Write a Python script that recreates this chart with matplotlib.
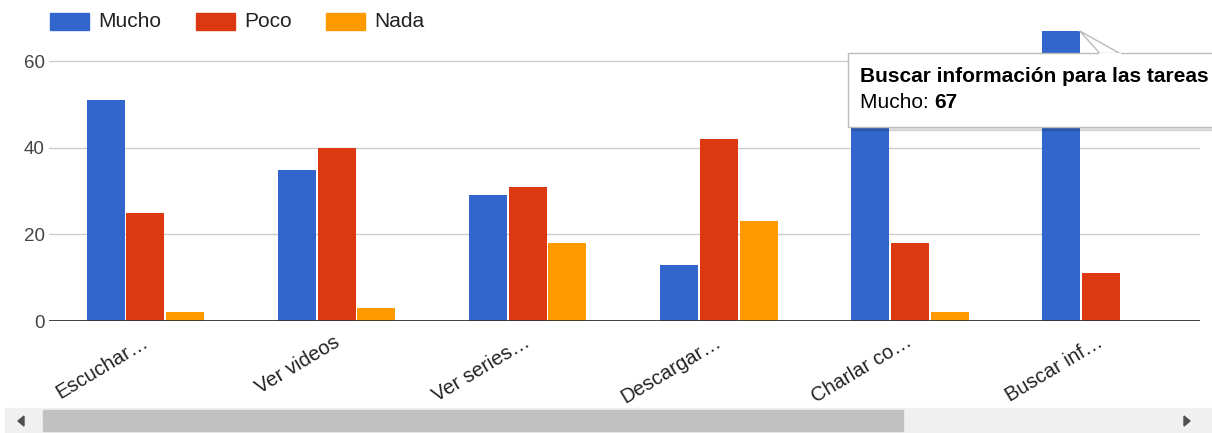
import matplotlib
matplotlib.use("Agg")
import matplotlib.pyplot as plt
import numpy as np
from matplotlib.patches import Rectangle, Polygon

plt.rcParams["font.family"] = ["Liberation Sans", "DejaVu Sans"]

# ---------- data ----------
categories = ["Escuchar…", "Ver videos", "Ver series…", "Descargar…",
              "Charlar co…", "Buscar inf…", "Tareas…"]
series = ["Mucho", "Poco", "Nada"]
mucho = [51, 35, 29, 13, 52, 67, 0]
poco = [25, 40, 31, 42, 18, 11, 0]
nada = [2, 3, 18, 23, 2, 0, 0]
yticks = [0, 20, 40, 60]
tooltip_title = "Buscar información para las tareas"
tooltip_series = "Mucho"
tooltip_value = 67

colors = ["#3366cc", "#dc3912", "#ff9900"]
W, H = 1212, 433


def fx(px):
    return px / W


def fy(py):
    return 1 - py / H


fig = plt.figure(figsize=(W / 100, H / 100), dpi=100)
ax = fig.add_axes([fx(49), fy(321), fx(1200) - fx(49), fy(18) - fy(321)])

x = np.arange(len(categories))
bw, off = 0.199, 0.209
for i, (vals, c) in enumerate(zip([mucho, poco, nada], colors)):
    ax.bar(x + (i - 1) * off, vals, width=bw, color=c, zorder=3, linewidth=0)

ax.set_xlim(-0.505, 5.52)
ax.set_ylim(0, 70)
ax.set_yticks(yticks)
ax.set_yticklabels([str(t) for t in yticks], fontsize=13.5, color="#444444")
ax.tick_params(axis="y", length=0, pad=3)
ax.tick_params(axis="x", length=0)
ax.set_xticks([])
for t in yticks[1:]:
    ax.axhline(t, color="#cccccc", lw=1, zorder=1)
ax.axhline(0, color="#333333", lw=1.3, zorder=4)
for s in ax.spines.values():
    s.set_visible(False)

# rotated category labels, right end anchored under each group
for xi, lab in zip(x, categories):
    ax.text(xi - 0.02, -2.6, lab, rotation=31, ha="right", va="top",
            fontsize=14.5, color="#222222", rotation_mode="anchor",
            clip_on=False)

# ---------- overlay in pixel coordinates ----------
ov = fig.add_axes([0, 0, 1, 1], zorder=10)
ov.set_xlim(0, W)
ov.set_ylim(H, 0)
ov.axis("off")
ov.patch.set_alpha(0)

# legend
lx = [50, 196, 326]
for px, name, c in zip(lx, series, colors):
    ov.add_patch(Rectangle((px, 13), 39, 17, color=c))
    ov.text(px + 48, 21.5, name, fontsize=15, va="center", color="#222222")

# tooltip
fig.canvas.draw()
bx, by = ax.transData.transform((5 - off + bw / 2, tooltip_value))
tx, ty = ov.transData.inverted().transform((bx, by))
ov.add_patch(Rectangle((851, 56), 400, 74, color="#000000", alpha=0.12))
ov.add_patch(Rectangle((848, 53), 400, 74, facecolor="white",
                       edgecolor="#bbbbbb", lw=1))
ov.add_patch(Polygon([(tx, ty), (1100, 53.5), (1120, 53.5)], closed=True,
                     facecolor="white", edgecolor="#bbbbbb", lw=1))
ov.plot([1100, 1120], [53.5, 53.5], color="white", lw=1.5)
ov.text(860, 77, tooltip_title, fontsize=15, fontweight="bold",
        va="center", color="#000000")
t1 = ov.text(860, 102, f"{tooltip_series}: ", fontsize=15, va="center",
             color="#000000")
fig.canvas.draw()
bb = t1.get_window_extent()
vx = ov.transData.inverted().transform((bb.x1, 0))[0]
ov.text(vx, 102, str(tooltip_value), fontsize=15, fontweight="bold",
        va="center", color="#000000")

# scrollbar
ov.add_patch(Rectangle((5, 408), W - 5, 25, color="#f0f0f0"))
ov.add_patch(Rectangle((43, 410), 860, 21, color="#c1c1c1"))
ov.add_patch(Polygon([(18, 421), (24, 416), (24, 426)], color="#505050"))
ov.add_patch(Polygon([(1190, 421), (1184, 416), (1184, 426)], color="#505050"))

fig.savefig("out.png", dpi=100)
